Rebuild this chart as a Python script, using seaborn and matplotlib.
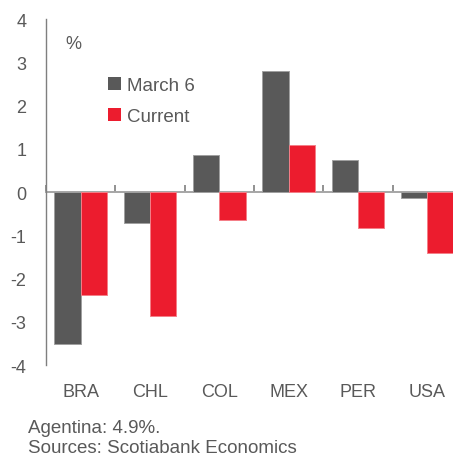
import pandas as pd
import matplotlib.pyplot as plt
import seaborn as sns

countries = ['BRA', 'CHL', 'COL', 'MEX', 'PER', 'USA']
march6 = [-3.5, -0.71, 0.85, 2.8, 0.74, -0.14]
current = [-2.37, -2.87, -0.64, 1.1, -0.83, -1.4]
series_names = ['March 6', 'Current']
y_ticks = [-4, -3, -2, -1, 0, 1, 2, 3, 4]

df = pd.DataFrame({
    'country': countries * 2,
    'value': march6 + current,
    'series': [series_names[0]] * len(countries) + [series_names[1]] * len(countries),
})

sns.set_style('white')
plt.rcParams['font.family'] = ['Liberation Sans', 'DejaVu Sans']
txt = '#595959'

fig = plt.figure(figsize=(4.53, 4.56), dpi=100)
ax = fig.add_axes([0.1015, 0.197, 0.918, 0.759])

sns.barplot(data=df, x='country', y='value', hue='series', saturation=1,
            palette=['#595959', '#EC1C2E'], width=0.76, linewidth=0, ax=ax)

# thin light outline like the original
for cont, ec in zip(ax.containers, ['#a0a0a0', '#f47f88']):
    for bar in cont:
        bar.set_edgecolor(ec)
        bar.set_linewidth(0.7)

ax.set_ylim(-4, 4)
ax.set_xlim(-0.5, len(countries) - 0.5)
ax.set_yticks(y_ticks)
ax.set_yticklabels([str(t) for t in y_ticks], fontsize=13, color=txt)
ax.tick_params(axis='y', direction='in', length=4, color='#7f7f7f', width=1, pad=14)
ax.tick_params(axis='x', length=0, labelsize=13, labelcolor=txt, pad=13)
ax.set_xlabel('')
ax.set_ylabel('')

for s in ['top', 'right', 'bottom']:
    ax.spines[s].set_visible(False)
ax.spines['left'].set_color('#7f7f7f')
ax.spines['left'].set_linewidth(1)

# zero line with boundary ticks
sec = ax.secondary_xaxis(0.5)
sec.xaxis.set_ticks_position('bottom')
sec.set_xticks([i + 0.5 for i in range(-1, len(countries))])
sec.set_xticklabels([])
sec.tick_params(direction='in', length=5, color='#7f7f7f', width=1.2,
                labelbottom=False, labeltop=False)
for s in sec.spines.values():
    s.set_color('#a6a6a6')
    s.set_linewidth(1.4)

ax.text(0.046, 0.93, '%', transform=ax.transAxes, fontsize=13, color=txt,
        ha='left', va='center')

leg = ax.legend(loc='upper left', bbox_to_anchor=(0.13, 0.855), frameon=False,
                fontsize=13.5, handlelength=0.7, handleheight=0.7,
                handletextpad=0.35, labelspacing=0.75, borderaxespad=0)
for t in leg.get_texts():
    t.set_color(txt)

fig.text(0.062, 0.061, 'Agentina: 4.9%.', fontsize=13.5, color=txt, va='center')
fig.text(0.062, 0.017, 'Sources: Scotiabank Economics', fontsize=13.5, color=txt, va='center')

fig.savefig('out.png', dpi=100)
